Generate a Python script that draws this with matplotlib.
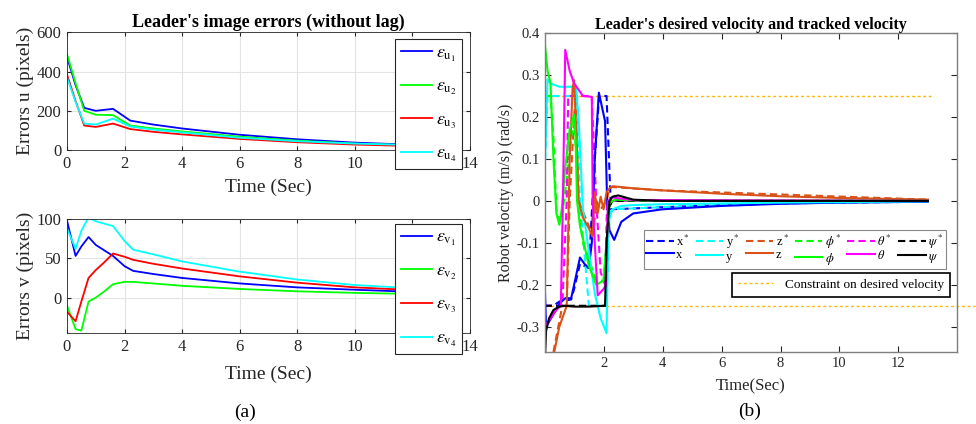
import matplotlib
matplotlib.use('Agg')
import matplotlib.pyplot as plt

plt.rcParams['font.family'] = ['Liberation Serif', 'DejaVu Serif']
plt.rcParams['mathtext.fontset'] = 'stix'
plt.rcParams['axes.unicode_minus'] = False

# ---- (a) leader's image errors ----
t_err = [0, 0.3, 0.6, 1.0, 1.6, 2.2, 3, 4, 6, 8, 10, 13]
eu1 = [475, 330, 215, 200, 210, 150, 130, 110, 78, 55, 38, 22]
eu2 = [490, 340, 200, 180, 178, 125, 110, 95, 68, 48, 33, 20]
eu3 = [385, 250, 125, 118, 135, 107, 93, 80, 57, 40, 28, 17]
eu4 = [370, 245, 135, 130, 160, 120, 104, 90, 63, 45, 33, 22]

t_ev = [0, 0.3, 0.5, 0.75, 1.0, 1.3, 1.6, 2.0, 2.3, 3, 4, 6, 8, 10, 13]
ev1 = [98, 53, 65, 77, 67, 60, 53, 40, 34, 30, 25, 18, 13, 10, 6]
ev2 = [-10, -40, -42, -5, 0, 8, 17, 20, 20, 18, 15, 11, 8, 6, 4]
ev3 = [-18, -30, -5, 25, 35, 45, 56, 52, 48, 43, 37, 27, 19, 13, 8]
ev4 = [88, 62, 85, 102, 97, 94, 91, 72, 61, 55, 46, 33, 23, 16, 10]

# ---- (b) desired (dashed) and tracked (solid) velocity ----
tx = [0, 0.05, 0.3, 0.5, 0.7, 0.9, 1.0, 1.2, 1.35, 1.5, 1.6, 1.7, 1.84, 2.05, 2.12, 2.2, 2.36, 2.6, 3, 4, 6, 8, 10, 13]
vx = [-0.19, -0.30, -0.27, -0.245, -0.232, -0.232, -0.2, -0.135, -0.15, -0.16, -0.1, 0.1, 0.258, 0.19, 0.0, -0.07, -0.093, -0.05, -0.03, -0.02, -0.012, -0.007, -0.004, -0.002]
txd = [0, 0.3, 0.5, 0.9, 1.0, 1.2, 1.5, 1.7, 1.85, 2.1, 2.25, 3, 4, 6, 8, 10, 13]
vxd = [-0.25, -0.25, -0.24, -0.235, -0.21, -0.15, -0.16, 0.1, 0.25, 0.25, -0.02, -0.018, -0.015, -0.01, -0.006, -0.004, -0.002]

ty = [0, 0.1, 0.2, 0.5, 0.9, 1.05, 1.15, 1.3, 1.5, 1.7, 1.9, 2.1, 2.16, 2.3, 2.6, 3, 4, 6, 8, 10, 13]
vy = [0.07, 0.29, 0.28, 0.272, 0.272, 0.276, 0.2, -0.02, -0.12, -0.22, -0.28, -0.315, -0.05, -0.02, -0.012, -0.01, -0.008, -0.006, -0.004, -0.003, -0.001]
tyd = [0, 0.1, 1.1, 1.2, 1.5, 2.1, 2.2, 2.3, 4, 6, 8, 10, 13]
vyd = [0.07, 0.25, 0.25, 0.0, -0.25, -0.25, -0.03, -0.02, -0.015, -0.01, -0.006, -0.004, -0.002]

tz = [0.3, 0.5, 0.75, 0.85, 0.95, 1.0, 1.08, 1.15, 1.3, 1.5, 1.62, 1.7, 1.8, 1.9, 2.0, 2.1, 2.2, 2.3, 3, 4, 6, 8, 10, 13]
vz = [-0.37, -0.3, -0.25, 0.1, 0.27, 0.288, 0.15, 0.0, -0.04, -0.065, -0.085, 0.02, -0.03, 0.01, -0.02, 0.02, 0.03, 0.035, 0.03, 0.025, 0.017, 0.011, 0.007, 0.003]
tzd = [0.3, 0.6, 0.75, 0.85, 1.0, 1.05, 1.15, 1.5, 1.65, 1.75, 1.9, 2.1, 2.2, 2.3, 4, 13]
vzd = [-0.36, -0.25, -0.25, 0.0, 0.2, 0.25, 0.0, -0.06, -0.08, 0.0, -0.02, 0.0, 0.03, 0.033, 0.025, 0.003]

tphi = [0, 0.1, 0.2, 0.3, 0.4, 0.5, 0.58, 0.7, 0.85, 1.0, 1.05, 1.1, 1.2, 1.3, 1.5, 1.75, 2.0, 2.1, 2.2, 2.4, 3, 13]
vphi = [0.38, 0.31, 0.28, 0.1, -0.03, -0.057, -0.02, 0.08, 0.17, 0.205, 0.15, 0.0, -0.06, -0.09, -0.155, -0.2, -0.19, -0.1, -0.005, 0.003, 0.001, 0.0]
tphid = [0, 0.2, 0.3, 0.4, 0.5, 0.6, 0.75, 0.9, 1.0, 1.08, 1.15, 1.3, 1.5, 1.75, 2.0, 2.1, 2.2, 13]
vphid = [0.25, 0.25, 0.15, -0.02, -0.05, -0.03, 0.05, 0.15, 0.19, 0.1, -0.02, -0.1, -0.14, -0.19, -0.19, -0.1, 0.0, 0.0]

tth = [0, 0.2, 0.4, 0.55, 0.62, 0.7, 0.85, 1.0, 1.3, 1.6, 1.63, 1.7, 1.8, 2.0, 2.08, 2.15, 2.3, 3, 13]
vth = [-0.3, -0.28, -0.26, -0.25, 0.0, 0.36, 0.31, 0.28, 0.25, 0.248, 0.0, -0.1, -0.225, -0.21, -0.2, 0.0, 0.008, 0.002, 0.0]
tthd = [0, 0.6, 0.75, 0.8, 1.6, 1.75, 1.9, 2.05, 2.12, 2.2, 13]
vthd = [-0.25, -0.25, 0.0, 0.25, 0.25, 0.0, -0.17, -0.2, 0.0, 0.0, 0.0]

tpsi = [0, 0.05, 0.15, 0.3, 0.5, 0.7, 1.0, 1.5, 2.05, 2.1, 2.2, 2.3, 2.5, 3, 4, 13]
vpsi = [-0.4, -0.31, -0.28, -0.26, -0.252, -0.25, -0.252, -0.252, -0.25, -0.1, 0.0, 0.01, 0.013, 0.003, 0.0, 0.0]
tpsid = [0, 2.1, 2.15, 2.3, 3, 13]
vpsid = [-0.25, -0.25, -0.02, 0.0, 0.0, 0.0]

v_limit = 0.25

fig = plt.figure(figsize=(9.76, 4.24), dpi=100)
txtc = '#262626'

def style_err(ax, lpad):
    ax.set_xlim(0, 14)
    ax.set_xticks(range(0, 15, 2))
    ax.grid(True, color='#e3e3e3', linewidth=0.8)
    ax.set_axisbelow(True)
    ax.tick_params(direction='in', top=True, right=True, labelsize=12, colors=txtc, length=3, pad=4)
    for s in ax.spines.values():
        s.set_color('#262626')
        s.set_linewidth(0.6)
    ax.set_xlabel('Time (Sec)', fontsize=14, color=txtc, labelpad=lpad)

def err_legend(ax, top):
    leg = ax.legend(loc='upper left', bbox_to_anchor=(0.405, top), bbox_transform=fig.transFigure,
                    borderaxespad=0, fontsize=13, handlelength=1.75, labelspacing=0.8,
                    borderpad=0.3, handletextpad=0.2, fancybox=False, framealpha=1,
                    edgecolor='#262626')
    leg.get_frame().set_linewidth(0.8)
    return leg

ax1 = fig.add_axes([0.0686, 0.646, 0.413, 0.278])
ax1.plot(t_err, eu1, color='#0000ff', lw=1.3, label=r'$\epsilon_{\mathrm{u}_1}$')
ax1.plot(t_err, eu2, color='#00ff00', lw=1.3, label=r'$\epsilon_{\mathrm{u}_2}$')
ax1.plot(t_err, eu3, color='#ff0000', lw=1.3, label=r'$\epsilon_{\mathrm{u}_3}$')
ax1.plot(t_err, eu4, color='#00ffff', lw=1.3, label=r'$\epsilon_{\mathrm{u}_4}$')
style_err(ax1, 5)
ax1.set_ylim(0, 600)
ax1.set_yticks([0, 200, 400, 600])
ax1.set_ylabel('Errors u (pixels)', fontsize=14, color=txtc, labelpad=2)
ax1.set_title("Leader's image errors (without lag)", fontsize=13, fontweight='bold', pad=4)
err_legend(ax1, 0.908)

ax2 = fig.add_axes([0.0686, 0.2146, 0.413, 0.269])
ax2.plot(t_ev, ev1, color='#0000ff', lw=1.3, label=r'$\epsilon_{\mathrm{v}_1}$')
ax2.plot(t_ev, ev2, color='#00ff00', lw=1.3, label=r'$\epsilon_{\mathrm{v}_2}$')
ax2.plot(t_ev, ev3, color='#ff0000', lw=1.3, label=r'$\epsilon_{\mathrm{v}_3}$')
ax2.plot(t_ev, ev4, color='#00ffff', lw=1.3, label=r'$\epsilon_{\mathrm{v}_4}$')
style_err(ax2, 8)
ax2.set_ylim(-45, 100)
ax2.set_yticks([0, 50, 100])
ax2.set_ylabel('Errors v (pixels)', fontsize=14, color=txtc, labelpad=2)
err_legend(ax2, 0.472)

# ---- right panel ----
ax3 = fig.add_axes([0.558, 0.170, 0.423, 0.752])
orange = '#d95319'
lim_line, = ax3.plot([0, 13.2], [v_limit, v_limit], color='#ffb700', lw=1, ls=(0, (2, 2)))
ax3.plot([0, 14.6], [-v_limit, -v_limit], color='#ffb700', lw=1, ls=(0, (2, 2)), clip_on=False)

series = [
    (txd, vxd, tx, vx, '#0000ff', r'x$^*$', 'x'),
    (tyd, vyd, ty, vy, '#00ffff', r'y$^*$', 'y'),
    (tzd, vzd, tz, vz, orange, r'z$^*$', 'z'),
    (tphid, vphid, tphi, vphi, '#00ff00', r'$\phi^*$', r'$\phi$'),
    (tthd, vthd, tth, vth, '#ff00ff', r'$\theta^*$', r'$\theta$'),
    (tpsid, vpsid, tpsi, vpsi, '#000000', r'$\psi^*$', r'$\psi$'),
]
handles = []
labels = []
for td, vd, ts, vs, c, ld, ls_ in series:
    hd, = ax3.plot(td, vd, color=c, lw=1.5, ls=(0, (3.5, 2)))
    handles.append(hd)
    labels.append(ld)
for td, vd, ts, vs, c, ld, ls_ in series:
    hs, = ax3.plot(ts, vs, color=c, lw=1.5)
    handles.append(hs)
    labels.append(ls_)

# column-wise: desired above tracked
order = []
for i in range(6):
    order += [i, i + 6]
leg3 = ax3.legend([handles[i] for i in order], [labels[i] for i in order], ncol=6,
                  loc='upper left', bbox_to_anchor=(0.24, 0.382), borderaxespad=0, fontsize=9,
                  handlelength=2.2, handletextpad=0.2, columnspacing=0.5, labelspacing=0.0,
                  borderpad=0.2, fancybox=False, framealpha=1, edgecolor='#888888')
leg3.get_frame().set_linewidth(0.8)
ax3.add_artist(leg3)
leg4 = ax3.legend([lim_line], ['Constraint on desired velocity'], loc='upper left',
                  bbox_to_anchor=(0.455, 0.248), borderaxespad=0, fontsize=9.5, handlelength=2.6,
                  handletextpad=0.9, borderpad=0.45, fancybox=False, framealpha=1,
                  edgecolor='#000000')
leg4.get_frame().set_linewidth(1.2)

ax3.set_xlim(0, 14)
ax3.set_ylim(-0.36, 0.4)
ax3.set_xticks([2, 4, 6, 8, 10, 12])
ax3.set_yticks([-0.3, -0.2, -0.1, 0, 0.1, 0.2, 0.3, 0.4])
ax3.set_yticklabels(['-0.3', '-0.2', '-0.1', '0', '0.1', '0.2', '0.3', '0.4'])
ax3.tick_params(direction='in', top=True, right=True, labelsize=10.5, colors=txtc, length=4)
for s in ax3.spines.values():
    s.set_color('#7f7f7f')
    s.set_linewidth(1.0)
ax3.set_xlabel('Time(Sec)', fontsize=12, color=txtc, labelpad=6)
ax3.set_ylabel('Robot velocity (m/s) (rad/s)', fontsize=11.5, color=txtc, labelpad=2)
ax3.set_title("Leader's desired velocity and tracked velocity", fontsize=11.5,
              fontweight='bold', pad=3)

fig.text(0.251, 0.027, '(a)', fontsize=14, ha='center', va='center')
fig.text(0.768, 0.029, '(b)', fontsize=14, ha='center', va='center')

fig.savefig('out.png', dpi=100)
